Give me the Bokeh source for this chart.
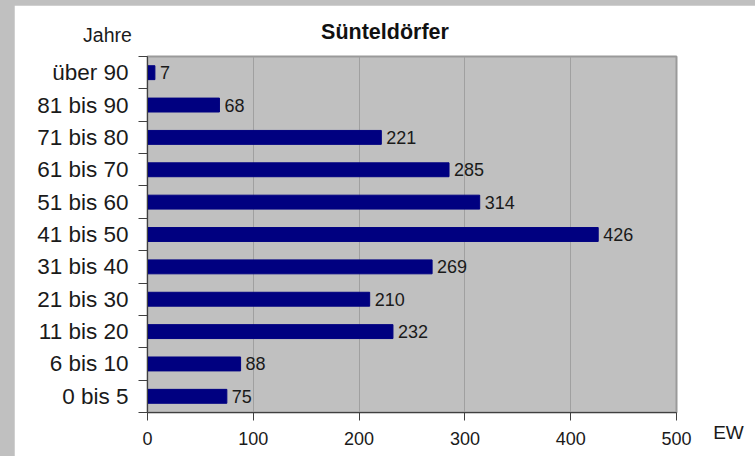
from bokeh.plotting import figure
from bokeh.models import ColumnDataSource, FixedTicker, Range1d, Label
from bokeh.core.properties import value
from bokeh.embed import file_html
from bokeh.resources import INLINE
from jinja2 import Template

categories = ["0 bis 5", "6 bis 10", "11 bis 20", "21 bis 30", "31 bis 40",
              "41 bis 50", "51 bis 60", "61 bis 70", "71 bis 80", "81 bis 90", "über 90"]
values = [75, 88, 232, 210, 269, 426, 314, 285, 221, 68, 7]
x_ticks = [0, 100, 200, 300, 400, 500]
title_text = "Sünteldörfer"
y_axis_title = "Jahre"
x_axis_title = "EW"

positions = [i + 0.5 for i in range(len(categories))]
boundaries = list(range(len(categories) + 1))

src = ColumnDataSource(dict(y=positions, v=values, lbl=[str(v) for v in values]))

FONT = "Liberation Sans"
W, H = 741, 451

p = figure(width=W, height=H, output_backend="svg", toolbar_location=None,
           x_range=Range1d(0, 500), y_range=Range1d(0, len(categories)),
           min_border_left=133, min_border_right=79, min_border_top=51, min_border_bottom=44)
p.border_fill_color = "white"
p.background_fill_color = "#c0c0c0"
p.outline_line_color = "#9a9a9a"
p.outline_line_width = 2

p.hbar(y="y", right="v", left=0, height=0.43, source=src, color="#000080")
p.text(x="v", y="y", text="lbl", source=src, x_offset=5, text_baseline="middle",
       text_align="left", text_font_size="18px", text_color="#1a1a1a", text_font=value(FONT))

# grid
p.ygrid.grid_line_color = None
p.xgrid.ticker = FixedTicker(ticks=x_ticks)
p.xgrid.grid_line_color = "#a0a0a0"
p.xgrid.grid_line_width = 1

# x axis
xa = p.xaxis[0]
xa.ticker = FixedTicker(ticks=x_ticks)
xa.axis_line_color = "#404040"
xa.major_tick_line_color = "#404040"
xa.major_tick_out = 8
xa.major_tick_in = 0
xa.minor_tick_line_color = None
xa.major_label_text_font = FONT
xa.major_label_text_font_size = "18px"
xa.major_label_text_color = "#1a1a1a"
xa.major_label_standoff = 11

# y axis: labels at centers, ticks at boundaries
ya = p.yaxis[0]
ya.ticker = FixedTicker(ticks=positions, minor_ticks=boundaries)
ya.major_label_overrides = {pos: c for pos, c in zip(positions, categories)}
ya.axis_line_color = "#404040"
ya.major_tick_line_color = None
ya.major_tick_out = 0
ya.major_tick_in = 0
ya.minor_tick_line_color = "#404040"
ya.minor_tick_out = 9
ya.minor_tick_in = 0
ya.major_label_text_font = FONT
ya.major_label_text_font_size = "22.5px"
ya.major_label_text_color = "#1a1a1a"
ya.major_label_standoff = 10

# transparent overlay figure (same size, frame = whole canvas) carrying the free texts
ov = figure(width=W, height=H, output_backend="svg", toolbar_location=None,
            x_range=Range1d(0, W), y_range=Range1d(H, 0),
            x_axis_location=None, y_axis_location=None,
            min_border_left=0, min_border_right=0, min_border_top=0, min_border_bottom=0)
ov.background_fill_color = None
ov.border_fill_color = None
ov.outline_line_color = None
ov.grid.grid_line_color = None
ov.styles = {"position": "absolute", "left": "14px", "top": "5px"}

ov.add_layout(Label(x=370.5, y=26, text=title_text, text_align="center",
                    text_baseline="alphabetic", text_font=FONT, text_font_size="21.5px",
                    text_font_style="bold", text_color="#111111"))
ov.add_layout(Label(x=93, y=29, text=y_axis_title, text_align="center",
                    text_baseline="alphabetic", text_font=FONT, text_font_size="19.5px",
                    text_color="#1a1a1a"))
ov.add_layout(Label(x=714, y=427, text=x_axis_title, text_align="center",
                    text_baseline="alphabetic", text_font=FONT, text_font_size="19px",
                    text_color="#1a1a1a"))

template = Template("""{% extends base %}
{% block preamble %}<style>html,body{margin:0 !important;padding:0 !important;background:#c0c0c0 !important;overflow:hidden !important;} body{padding:5px 0 0 14px !important;}</style>{% endblock %}""")

open("out.html", "w").write(file_html([p, ov], INLINE, title="Sünteldörfer", template=template))
